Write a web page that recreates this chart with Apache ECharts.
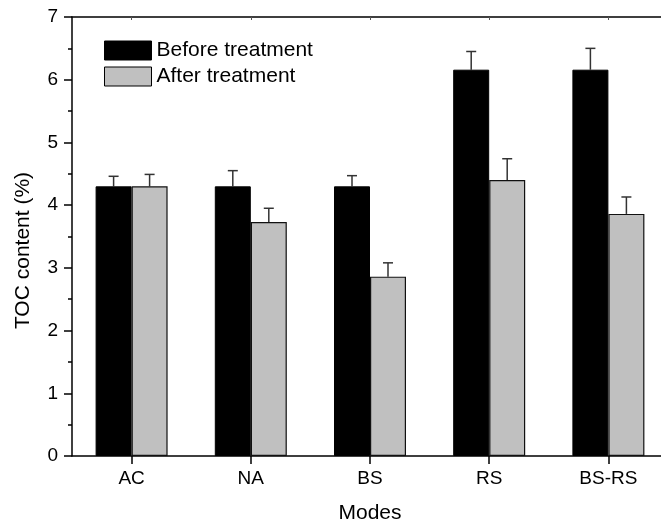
<!DOCTYPE html>
<html>
<head>
<meta charset="utf-8">
<script src="https://cdn.jsdelivr.net/npm/echarts@6/dist/echarts.min.js"></script>
<style>
html,body{margin:0;padding:0;background:#fff;overflow:hidden;width:661px;height:529px}
#wrap{width:661px;height:529px;overflow:hidden;position:relative}
#c{position:absolute;left:0;top:0;width:668px;height:529px}
</style>
</head>
<body>
<div id="wrap"><div id="c"></div></div>
<script>
var categories = ['AC', 'NA', 'BS', 'RS', 'BS-RS'];
var seriesNames = ['Before treatment', 'After treatment'];
var beforeValues = [4.30, 4.30, 4.30, 6.16, 6.16];
var afterValues = [4.30, 3.73, 2.86, 4.40, 3.86];
var beforeErrors = [0.16, 0.25, 0.17, 0.29, 0.34];
var afterErrors = [0.19, 0.22, 0.22, 0.34, 0.27];

var FONT = '"Liberation Sans", Arial, Helvetica, sans-serif';
var BAR_W = 36;

function errData(vals, errs) {
  return vals.map(function (v, i) { return [i, v, v + errs[i]]; });
}
function errRender(offset) {
  return function (params, api) {
    var i = api.value(0);
    var p0 = api.coord([i, api.value(1)]);
    var p1 = api.coord([i, api.value(2)]);
    var x = p0[0] + offset;
    var style = { stroke: '#333', lineWidth: 1.5 };
    return {
      type: 'group',
      children: [
        { type: 'line', shape: { x1: x, y1: p0[1], x2: x, y2: p1[1] }, style: style },
        { type: 'line', shape: { x1: x - 5, y1: p1[1], x2: x + 5, y2: p1[1] }, style: style }
      ]
    };
  };
}

var chart = echarts.init(document.getElementById('c'), null, { renderer: 'canvas', width: 668, height: 529 });
chart.setOption({
  animation: false,
  backgroundColor: '#fff',
  textStyle: { fontFamily: FONT },
  grid: { left: 72, top: 17, right: 0, bottom: 70, containLabel: false },
  legend: {
    left: 99, top: 35, orient: 'vertical', itemWidth: 47, itemHeight: 19, itemGap: 5,
    icon: 'rect',
    textStyle: { fontFamily: FONT, fontSize: 21, color: '#000' },
    data: [
      { name: seriesNames[0], itemStyle: { color: '#000', borderColor: '#000', borderWidth: 1 } },
      { name: seriesNames[1], itemStyle: { color: '#c0c0c0', borderColor: '#000', borderWidth: 1 } }
    ]
  },
  xAxis: [
    {
      type: 'category', data: categories, position: 'bottom',
      name: 'Modes', nameLocation: 'middle', nameGap: 47,
      nameTextStyle: { fontFamily: FONT, fontSize: 21, color: '#000' },
      axisLine: { lineStyle: { color: '#000', width: 1.5 } },
      axisTick: { show: true, alignWithLabel: true, length: 8, inside: false, lineStyle: { color: '#000', width: 1.5 } },
      axisLabel: { fontFamily: FONT, fontSize: 19, color: '#000', margin: 13 },
      splitLine: { show: false }
    },
    {
      type: 'category', data: categories, position: 'top',
      axisLine: { lineStyle: { color: '#000', width: 1.5 } },
      axisTick: { show: true, alignWithLabel: true, length: 3, inside: true, lineStyle: { color: '#555', width: 1 } },
      axisLabel: { show: false },
      splitLine: { show: false }
    }
  ],
  yAxis: {
    type: 'value', min: 0, max: 7, interval: 1,
    name: 'TOC content (%)', nameLocation: 'middle', nameGap: 38,
    nameTextStyle: { fontFamily: FONT, fontSize: 21, color: '#000', padding: [0, 28, 0, 0] },
    axisLine: { show: true, lineStyle: { color: '#000', width: 1.5 } },
    axisTick: { show: true, length: 8, lineStyle: { color: '#000', width: 1.5 } },
    minorTick: { show: true, splitNumber: 2, length: 4, lineStyle: { color: '#000', width: 1.5 } },
    axisLabel: { fontFamily: FONT, fontSize: 19, color: '#000', margin: 14 },
    splitLine: { show: false }
  },
  series: [
    {
      name: seriesNames[0], type: 'bar', data: beforeValues, barWidth: BAR_W, barGap: '0%',
      itemStyle: { color: '#000', borderColor: '#000', borderWidth: 1 }
    },
    {
      name: seriesNames[1], type: 'bar', data: afterValues, barWidth: BAR_W, barGap: '0%',
      itemStyle: { color: '#c0c0c0', borderColor: '#111', borderWidth: 1.2 }
    },
    {
      type: 'custom', data: errData(beforeValues, beforeErrors), renderItem: errRender(-BAR_W / 2),
      encode: { x: 0, y: [1, 2] }, z: 1, silent: true
    },
    {
      type: 'custom', data: errData(afterValues, afterErrors), renderItem: errRender(BAR_W / 2),
      encode: { x: 0, y: [1, 2] }, z: 1, silent: true
    }
  ]
});
</script>
</body>
</html>
